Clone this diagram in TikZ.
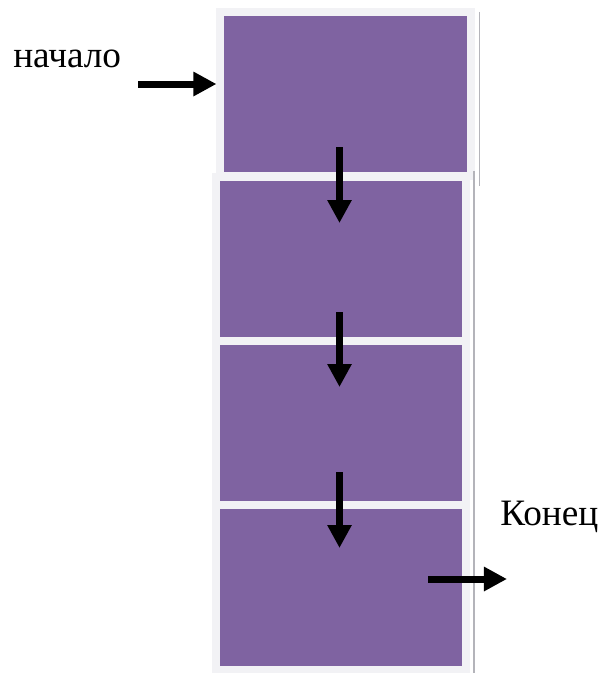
\documentclass[tikz,border=0pt]{standalone}
\usepackage{fontspec}
\setmainfont{Liberation Serif}
\usepackage{tikz}
\usetikzlibrary{arrows.meta, positioning}

\definecolor{cellfill}{HTML}{7F63A1}
\definecolor{cellrim}{HTML}{F2F2F5}
\definecolor{cellshade}{HTML}{B4B4BA}

\begin{document}
\begin{tikzpicture}[
    x=0.025cm, y=-0.025cm,
    cell/.style={rectangle, draw=cellrim, fill=cellfill, line width=0.2cm,
                 inner sep=0pt, minimum width=6.25cm, minimum height=4.1cm},
    label/.style={font=\rmfamily\fontsize{26.5}{30}\selectfont, inner sep=0pt},
    arrow/.style={-{Triangle[length=0.575cm, width=0.575cm]}, line width=0.175cm},
    rimshade/.style={cellshade, line width=0.04cm},
]
\useasboundingbox (0,0) rectangle (602,673);

% ── cells : one on top, three stacked below ─────────────────────────
\node[cell] (top)   at (345.5, 94) {};
\node[cell] (mid1)  at (341, 259)  {};
\node[cell] (mid2)  at (341, 423.5) {};
\node[cell] (last)  at (341, 587.5) {};

% thin grey edge on the right side of the rims
\draw[rimshade] ([xshift=0.12cm, yshift=-0.1cm]top.north east)
                -- ([xshift=0.12cm, yshift=-0.15cm]top.south east);
\draw[rimshade] ([xshift=0.1cm, yshift=0.05cm]mid1.north east)
                -- ([xshift=0.1cm, yshift=-0.15cm]last.south east);

% ── texts ──────────────────────────────────────────────────────────
\node[label, anchor=base west] (start) at (13, 67)  {начало};
\node[label, anchor=base west] (stop)  at (500, 525) {Конец};

% ── arrows ─────────────────────────────────────────────────────────
% entry arrow: left of the top cell, ends on its rim
\coordinate (inA) at (138, 84);
\draw[arrow] (inA) -- (inA -| top.west);

% downward arrows across each seam
\foreach \ya/\yb [count=\i] in {147/223, 312/387, 472/548} {
  \coordinate (d\i a) at (339.5, \ya);
  \coordinate (d\i b) at (339.5, \yb);
  \draw[arrow] (d\i a) -- (d\i b);
}

% exit arrow out of the last cell
\coordinate (outA) at (428, 579);
\coordinate (outB) at (507, 579);
\draw[arrow] (outA) -- (outB);

\end{tikzpicture}
\end{document}
